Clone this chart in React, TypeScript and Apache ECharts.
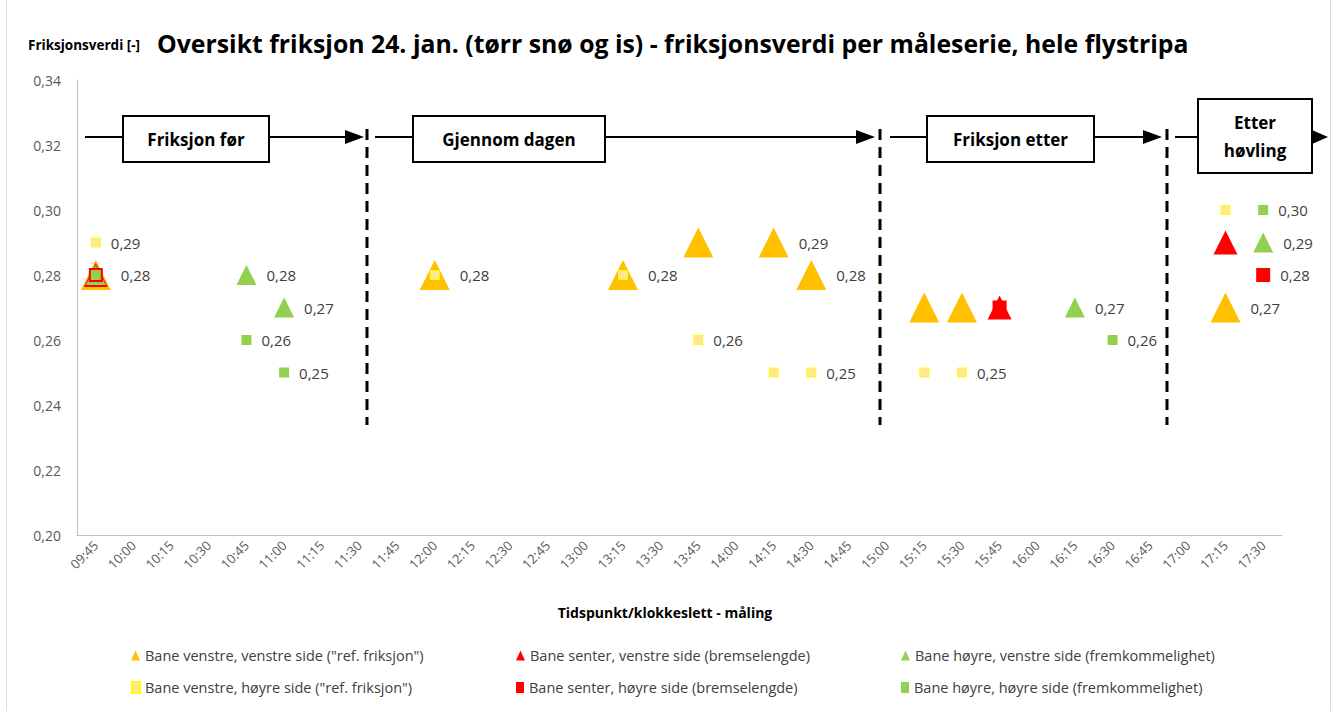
import React, { useEffect, useRef } from "react";
import * as echarts from "echarts";

const FONT = "'Open Sans', Lato, sans-serif";

const categories = [
  "09:45", "10:00", "10:15", "10:30", "10:45", "11:00", "11:15", "11:30",
  "11:45", "12:00", "12:15", "12:30", "12:45", "13:00", "13:15", "13:30",
  "13:45", "14:00", "14:15", "14:30", "14:45", "15:00", "15:15", "15:30",
  "15:45", "16:00", "16:15", "16:30", "16:45", "17:00", "17:15", "17:30",
];

const yTicks = [0.2, 0.22, 0.24, 0.26, 0.28, 0.3, 0.32, 0.34];

const seriesNames = [
  'Bane venstre, venstre side ("ref. friksjon")',
  "Bane senter, venstre side (bremselengde)",
  "Bane høyre, venstre side (fremkommelighet)",
  'Bane venstre, høyre side ("ref. friksjon")',
  "Bane senter, høyre side (bremselengde)",
  "Bane høyre, høyre side (fremkommelighet)",
];

// Bane venstre, venstre side (orange triangles)
const venstreVenstre: [string, number][] = [
  ["09:45", 0.28], ["12:00", 0.28], ["13:15", 0.28], ["13:45", 0.29],
  ["14:15", 0.29], ["14:30", 0.28], ["15:15", 0.27], ["15:30", 0.27],
  ["17:15", 0.27],
];
const venstreVenstreLabels = ["09:45", "12:00", "13:15", "14:15", "14:30", "17:15"];

// Bane senter, venstre side (red triangles)
const senterVenstre: [string, number][] = [
  ["09:45", 0.28], ["15:45", 0.27], ["17:15", 0.29],
];
const senterVenstreLabels: string[] = [];

// Bane høyre, venstre side (green triangles)
const hoyreVenstre: [string, number][] = [
  ["09:45", 0.28], ["10:45", 0.28], ["11:00", 0.27], ["16:15", 0.27],
  ["17:30", 0.29],
];
const hoyreVenstreLabels = ["10:45", "11:00", "16:15", "17:30"];

// Bane venstre, høyre side (light yellow squares)
const venstreHoyre: [string, number][] = [
  ["09:45", 0.29], ["12:00", 0.28], ["13:15", 0.28], ["13:45", 0.26],
  ["14:15", 0.25], ["14:30", 0.25], ["15:15", 0.25], ["15:30", 0.25],
  ["17:15", 0.3],
];
const venstreHoyreLabels = ["09:45", "13:45", "14:30", "15:30"];

// Bane senter, høyre side (red squares)
const senterHoyre: [string, number][] = [
  ["09:45", 0.28], ["15:45", 0.27], ["17:30", 0.28],
];
const senterHoyreLabels = ["17:30"];

// Bane høyre, høyre side (green squares)
const hoyreHoyre: [string, number][] = [
  ["09:45", 0.28], ["10:45", 0.26], ["11:00", 0.25], ["16:30", 0.26],
  ["17:30", 0.3],
];
const hoyreHoyreLabels = ["10:45", "11:00", "16:30", "17:30"];

const fmt = (v: number) => v.toFixed(2).replace(".", ",");

function buildData(points: [string, number][], labels: string[]) {
  return points.map(([t, v]) => ({
    value: [t, v],
    label: { show: labels.includes(t) },
  }));
}

const labelStyle = {
  position: "right",
  distance: 10,
  color: "#404040",
  fontSize: 15,
  fontFamily: FONT,
  formatter: (p: any) => fmt(p.value[1]),
};

function makeSeries(
  name: string,
  pts: [string, number][],
  labels: string[],
  symbol: string,
  size: number,
  color: string,
  border?: string
) {
  return {
    name,
    type: "scatter",
    symbol,
    symbolSize: size,
    data: buildData(pts, labels),
    itemStyle: border
      ? { color, borderColor: border, borderWidth: 1, opacity: 1 }
      : { color, opacity: 1 },
    label: labelStyle,
    emphasis: { disabled: true },
  };
}

export default function App() {
  const ref = useRef<HTMLDivElement>(null);

  useEffect(() => {
    if (!ref.current) return;
    const chart = echarts.init(ref.current, undefined, { renderer: "svg" });

    const black = "#000";
    const boxText = {
      fontSize: 17,
      fontWeight: "bold",
      fontFamily: FONT,
      fill: black,
      align: "center",
      verticalAlign: "middle",
    };
    const line = (x1: number, y1: number, x2: number, y2: number) => ({
      type: "line",
      shape: { x1, y1, x2, y2 },
      style: { stroke: black, lineWidth: 2 },
      silent: true,
    });
    const head = (x: number, tip: number, y: number) => ({
      type: "polygon",
      shape: { points: [[x, y - 7], [tip, y], [x, y + 7]] },
      style: { fill: black },
      silent: true,
    });
    const box = (x1: number, y1: number, x2: number, y2: number, text: string) => [
      {
        type: "rect",
        shape: { x: x1, y: y1, width: x2 - x1, height: y2 - y1 },
        style: { fill: "#fff", stroke: black, lineWidth: 2 },
        silent: true,
        z: 10,
      },
      {
        type: "text",
        x: (x1 + x2) / 2,
        y: (y1 + y2) / 2,
        style: { ...boxText, text, lineHeight: 28 },
        silent: true,
        z: 11,
      },
    ];
    const dashed = (x: number) => ({
      type: "line",
      shape: { x1: x, y1: 129, x2: x, y2: 425 },
      style: { stroke: black, lineWidth: 3, lineDash: [11, 7] },
      silent: true,
    });
    const arrowY = 137;

    const graphics: any[] = [
      // chart frame
      { type: "line", shape: { x1: 6.5, y1: 0, x2: 6.5, y2: 711 }, style: { stroke: "#D9D9D9", lineWidth: 1 }, silent: true },
      { type: "line", shape: { x1: 1330.5, y1: 0, x2: 1330.5, y2: 711 }, style: { stroke: "#D9D9D9", lineWidth: 1 }, silent: true },
      {
        type: "text",
        left: 28,
        top: 38,
        style: { text: "Friksjonsverdi [-]", fontSize: 13.5, fontWeight: "bold", fontFamily: FONT, fill: "#000" },
        silent: true,
      },
      {
        type: "text",
        left: 157,
        top: 30,
        style: {
          text: "Oversikt friksjon 24. jan. (tørr snø og is) - friksjonsverdi per måleserie, hele flystripa",
          fontSize: 24.8,
          fontWeight: "bold",
          fontFamily: FONT,
          fill: "#000",
        },
        silent: true,
      },
      {
        type: "text",
        x: 665,
        y: 612,
        style: {
          text: "Tidspunkt/klokkeslett - måling",
          fontSize: 14,
          fontWeight: "bold",
          fontFamily: FONT,
          fill: "#000",
          align: "center",
          verticalAlign: "middle",
        },
        silent: true,
      },
      // segment 1
      line(85, arrowY, 346, arrowY),
      head(345, 364, arrowY),
      ...box(123, 116, 269, 162, "Friksjon før"),
      dashed(367),
      // segment 2
      line(375, arrowY, 857, arrowY),
      head(856, 875, arrowY),
      ...box(413, 116, 605, 162, "Gjennom dagen"),
      dashed(880),
      // segment 3
      line(890, arrowY, 1144, arrowY),
      head(1143, 1162, arrowY),
      ...box(927, 116, 1094, 162, "Friksjon etter"),
      dashed(1167),
      // segment 4
      line(1175, arrowY, 1200, arrowY),
      head(1312, 1328, arrowY),
      ...box(1198, 99, 1312, 173, "Etter\nhøvling"),
    ];

    const legendLefts = [131, 516, 901];
    const legendTops = [648, 680];
    const legends = seriesNames.map((name, i) => ({
      left: legendLefts[i % 3],
      top: legendTops[Math.floor(i / 3)],
      padding: 0,
      orient: "horizontal",
      itemWidth: i < 3 ? 9 : 8,
      itemHeight: i < 3 ? 10 : 11,
      itemGap: 5,
      selectedMode: false,
      data: [{ name, icon: i < 3 ? "triangle" : "rect" }],
      textStyle: {
        fontSize: 14.5,
        fontFamily: FONT,
        color: "#404040",
      },
    }));

    chart.setOption({
      animation: false,
      backgroundColor: "#fff",
      grid: { left: 77, right: 53, top: 80, bottom: 176, containLabel: false },
      legend: legends,
      xAxis: {
        type: "category",
        data: categories,
        boundaryGap: true,
        axisLine: { show: true, lineStyle: { color: "#BFBFBF", width: 1 } },
        axisTick: { show: false },
        splitLine: { show: false },
        axisLabel: {
          rotate: 45,
          interval: 0,
          color: "#595959",
          fontSize: 13,
          fontFamily: FONT,
          margin: 8,
        },
      },
      yAxis: {
        type: "value",
        min: yTicks[0],
        max: yTicks[yTicks.length - 1],
        interval: 0.02,
        axisLine: { show: true, lineStyle: { color: "#BFBFBF", width: 1 } },
        axisTick: { show: false },
        splitLine: { show: false },
        axisLabel: {
          color: "#595959",
          fontSize: 14,
          fontFamily: FONT,
          margin: 16,
          formatter: (v: number) => fmt(v),
        },
      },
      series: [
        makeSeries(seriesNames[0], venstreVenstre, venstreVenstreLabels, "triangle", 30, "#FFC000"),
        makeSeries(seriesNames[1], senterVenstre, senterVenstreLabels, "triangle", 24, "#FF0000"),
        makeSeries(seriesNames[2], hoyreVenstre, hoyreVenstreLabels, "triangle", 20, "#92D050"),
        makeSeries(seriesNames[3], venstreHoyre, venstreHoyreLabels, "rect", 9, "#FFE699", "#FFFF00"),
        makeSeries(seriesNames[4], senterHoyre, senterHoyreLabels, "rect", 14, "#FF0000"),
        makeSeries(seriesNames[5], hoyreHoyre, hoyreHoyreLabels, "rect", 10, "#92D050"),
      ],
      graphic: graphics,
    });

    return () => chart.dispose();
  }, []);

  return (
    <div
      ref={ref}
      style={{ position: "fixed", left: 0, top: 0, width: 1335, height: 711, background: "#fff" }}
    />
  );
}
